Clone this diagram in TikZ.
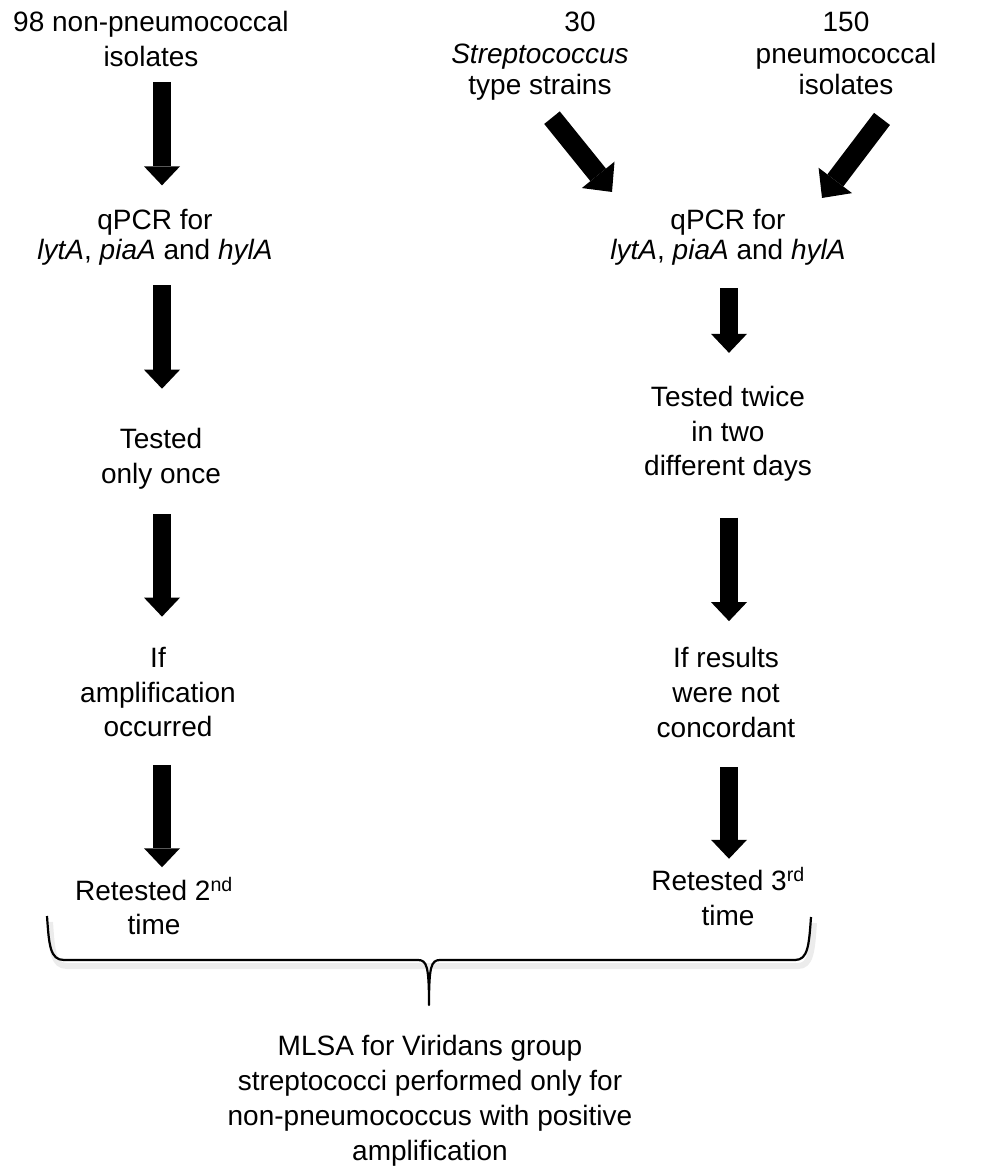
\documentclass[tikz,border=0pt]{standalone}
\usepackage{fontspec}
\setmainfont{Liberation Sans}
\usetikzlibrary{arrows.meta}

\begin{document}
\begin{tikzpicture}[x=1pt,y=-1pt]
  % some styles
  \tikzset{
    lbl/.style={
      align=center,
      inner sep=0pt,
      outer sep=0pt,
      font=\fontsize{28}{34.5}\selectfont
    },
    blk/.style={
      line width=18pt,
      -{Triangle[width=36pt 0,length=19pt 0,line width=0pt 0 0]}
    },
    blkdiag/.style={
      line width=20pt,
      -{Triangle[width=42pt 0,length=22pt 0,line width=0pt 0 0]}
    }
  }

\useasboundingbox (0,0) rectangle (985,1173);
\coordinate (colL) at (162,0);
\coordinate (colR) at (729,0);

% left branch
\node[lbl,font=\fontsize{28}{35}\selectfont] (nonpn) at (151,39) {98 non-pneumococcal\\isolates};
\node[lbl,font=\fontsize{28}{30}\selectfont] (qpcrL) at (155,237) {qPCR for\\\textit{lytA}, \textit{piaA} and \textit{hylA}};
\node[lbl] (onceL) at (161,459) {Tested\\only once};
\node[lbl] (ampL) at (158,692) {If\\amplification\\occurred};
\node[lbl,font=\fontsize{28}{34}\selectfont] (retL) at (154,906) {Retested 2\textsuperscript{nd}\\time};

% right branch
\node[lbl,font=\fontsize{28}{31.5}\selectfont] (strep) at (540,56.5) {\hspace*{80pt}30\\\textit{Streptococcus}\\type strains};
\node[lbl,font=\fontsize{28}{31.5}\selectfont] (pneumo) at (846,53.5) {150\\pneumococcal\\isolates};
\node[lbl,font=\fontsize{28}{30}\selectfont] (qpcrR) at (728,237) {qPCR for\\\textit{lytA}, \textit{piaA} and \textit{hylA}};
\node[lbl] (twiceR) at (728,434) {Tested twice\\in two\\different days};
\node[lbl,font=\fontsize{28}{35}\selectfont] (concR) at (726,692) {If results\\were not\\concordant};
\node[lbl,font=\fontsize{28}{35}\selectfont] (retR) at (728,897) {Retested 3\textsuperscript{rd}\\time};

\node[lbl,font=\fontsize{28}{35}\selectfont] (mlsa) at (430,1101) {MLSA for Viridans group\\streptococci performed only for\\non-pneumococcus with positive\\amplification};

% block arrows
\draw[blk,shorten <=15pt,shorten >=23.6pt] (nonpn.south -| colL) -- (qpcrL.north -| colL);
\draw[blk,shorten <=20pt,shorten >=40pt] (qpcrL.south -| colL) -- (onceL.north -| colL);
\draw[blk,shorten <=25pt,shorten >=30.6pt] (onceL.south -| colL) -- (ampL.north -| colL);
\draw[blk,shorten <=28pt,shorten >=10pt] (ampL.south -| colL) -- (retL.north -| colL);

\draw[blkdiag] ([shift={(12,17)}]strep.south) -- ([shift={(-116,-17)}]qpcrR.north);
\draw[blkdiag] ([shift={(36,24)}]pneumo.south) -- ([shift={(94,-11)}]qpcrR.north);
\draw[blk,shorten <=23pt,shorten >=33.6pt] (qpcrR.south -| colR) -- (twiceR.north -| colR);
\draw[blk,shorten <=36pt,shorten >=25.6pt] (twiceR.south -| colR) -- (concR.north -| colR);
\draw[blk,shorten <=30pt,shorten >=9pt] (concR.south -| colR) -- (retR.north -| colR);

% brace
\draw[gray!30,opacity=0.5,line width=6pt,shift={(3,6)}] (47,916) .. controls (49,945) and (50,960) .. (64,960) -- (795,960) .. controls (808,960) and (809,945) .. (811,917);
\draw[line width=2.2pt,line join=round] (47,916) .. controls (49,945) and (50,960) .. (64,960) -- (418,960) .. controls (427,960) and (429,967) .. (429,1005) .. controls (429,967) and (431,960) .. (440,960) -- (795,960) .. controls (808,960) and (809,945) .. (811,917);

\end{tikzpicture}
\end{document}
